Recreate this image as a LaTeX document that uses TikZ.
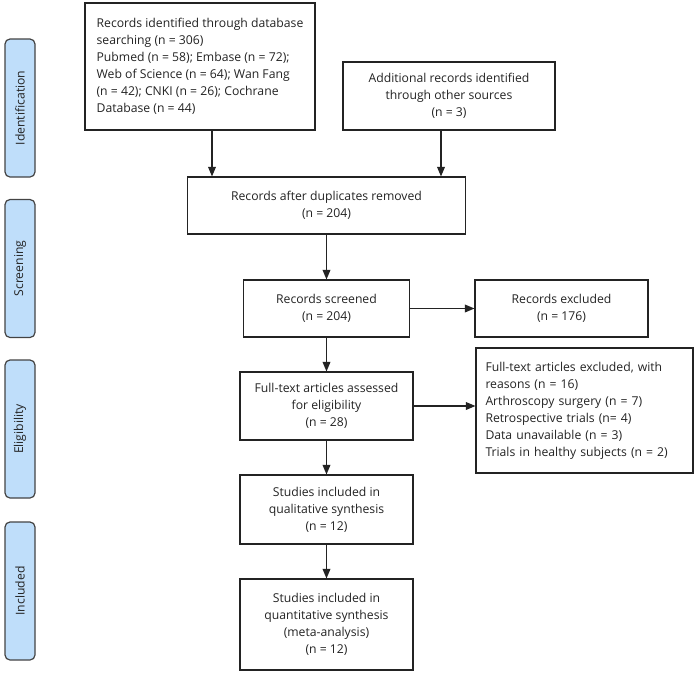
\documentclass[tikz,border=0pt]{standalone}
\usepackage{fontspec}
\setmainfont{Open Sans}
\usetikzlibrary{arrows}
\definecolor{phaseblue}{RGB}{191,222,250}
\definecolor{inkgray}{RGB}{35,35,35}
\newcommand\flowfont{\fontsize{12.2}{17}\selectfont}
\tikzset{
 box/.style={draw=inkgray, line width=1.2pt, align=center, inner sep=0pt, font=\flowfont, text=inkgray},
 phase/.style={draw=inkgray!85, fill=phaseblue, line width=1.2pt, rounded corners=5pt, rotate=90, inner sep=0pt,
  minimum width=138pt, minimum height=30pt, font=\flowfont, text=inkgray},
 arr/.style={inkgray, line width=1.2pt, ->, >=triangle 45}
}

\begin{document}
\begin{tikzpicture}[x=1pt,y=-1pt]
\useasboundingbox (0,0) rectangle (697,675);
\node[phase] (ident) at (20,108) {Identification};
\node[phase] (screen) at (20,268.5) {Screening};
\node[phase] (elig) at (20,429) {Eligibility};
\node[phase] (incl) at (20,591) {Included};

\node[box, align=left, minimum width=230pt, minimum height=127pt] (search) at (200,66.5)
 {Records identified through database\\ searching (n = 306)\\ Pubmed (n = 58); Embase (n = 72);\\ Web of Science (n = 64); Wan Fang\\ (n = 42); CNKI (n = 26); Cochrane\\ Database (n = 44)};
\node[box, minimum width=212pt, minimum height=68pt] (other) at (449,96)
 {Additional records identified\\ through other sources\\ (n = 3)};
\node[box, minimum width=278pt, minimum height=57pt] (dup) at (326.5,205.5)
 {Records after duplicates removed\\ (n = 204)};
\node[box, minimum width=166pt, minimum height=57pt] (scr) at (326.5,308.5)
 {Records screened\\ (n = 204)};
\node[box, minimum width=173pt, minimum height=57pt] (exc) at (561.5,308.5)
 {Records excluded\\ (n = 176)};
\node[box, minimum width=173pt, minimum height=68pt] (full) at (326.5,406)
 {Full-text articles assessed\\ for eligibility\\ (n = 28)};
\node[box, align=left, text width=198pt, minimum width=217pt, minimum height=125pt] (ftexc) at (584.5,410.5)
 {Full-text articles excluded, with\\ reasons (n = 16)\\ Arthroscopy surgery (n = 7)\\ Retrospective trials (n= 4)\\ Data unavailable (n = 3)\\ Trials in healthy subjects (n = 2)};
\node[box, minimum width=173pt, minimum height=69pt] (qual) at (326.5,509.5)
 {Studies included in\\ qualitative synthesis\\ (n = 12)};
\node[box, minimum width=173pt, minimum height=91pt] (quant) at (326.5,624.5)
 {Studies included in\\ quantitative synthesis\\ (meta-analysis)\\ (n = 12)};

\draw[arr] ([xshift=12pt]search.south) -- ([xshift=12pt]search.south |- dup.north);
\draw[arr] ([xshift=-8pt]other.south) -- ([xshift=-8pt]other.south |- dup.north);
\draw[arr] (dup) -- (scr);
\draw[arr] (scr) -- (exc);
\draw[arr] (scr) -- (full);
\draw[arr] (full.east) -- (full.east -| ftexc.west);
\draw[arr] (full) -- (qual);
\draw[arr] (qual) -- (quant);
\end{tikzpicture}
\end{document}
